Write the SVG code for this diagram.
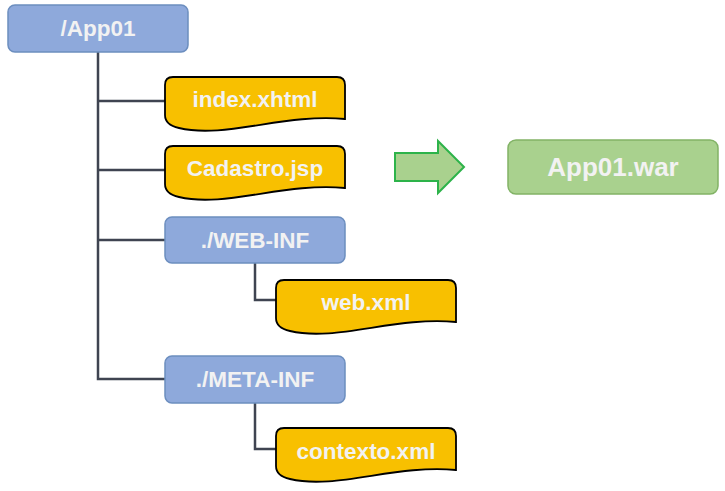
<svg xmlns="http://www.w3.org/2000/svg" xmlns:xlink="http://www.w3.org/1999/xlink" width="725" height="491" viewBox="0 0 725 491">
<style>
.folder{fill:#8EA9DB;stroke:#6C8EBF;stroke-width:1.5}
.doc{fill:#F8C000;stroke:#000;stroke-width:1.8}
.war{fill:#A9D18E;stroke:#82B366;stroke-width:1.5}
.arrow{fill:#A9D18E;stroke:#2DB34A;stroke-width:2}
.lbl{font-family:"Liberation Sans",Arial,sans-serif;font-weight:bold;font-size:22.5px;fill:#F2F2F2;text-anchor:middle}
.conn{fill:none;stroke:#3F4451;stroke-width:2.5}
</style>
<defs>
<path id="docshape" d="M0,8 Q0,0 8,0 L172,0 Q180,0 180,8 L180,42 C120,36 60,62 14,51 Q0,48 0,38 Z"/>
</defs>
<rect width="725" height="491" fill="#fff"/>
<g id="connectors">
<path class="conn" d="M98,52 V379 H165"/>
<path class="conn" d="M98,101 H165"/>
<path class="conn" d="M98,170 H165"/>
<path class="conn" d="M98,240 H165"/>
<path class="conn" d="M255,263 V300 H276"/>
<path class="conn" d="M255,403 V449 H276"/>
</g>
<g id="app01">
<rect class="folder" x="8" y="5" width="180" height="47" rx="7"/>
<text class="lbl" x="98" y="36">/App01</text>
</g>
<g id="index">
<use href="#docshape" class="doc" x="165" y="77"/>
<text class="lbl" x="255" y="107">index.xhtml</text>
</g>
<g id="cadastro">
<use href="#docshape" class="doc" x="165" y="146"/>
<text class="lbl" x="255" y="176">Cadastro.jsp</text>
</g>
<g id="webinf">
<rect class="folder" x="165" y="217" width="180" height="46" rx="7"/>
<text class="lbl" x="255" y="248">./WEB-INF</text>
</g>
<g id="webxml">
<use href="#docshape" class="doc" x="276" y="280"/>
<text class="lbl" x="366" y="310">web.xml</text>
</g>
<g id="metainf">
<rect class="folder" x="165" y="356" width="180" height="47" rx="7"/>
<text class="lbl" x="255" y="387">./META-INF</text>
</g>
<g id="contexto">
<use href="#docshape" class="doc" x="276" y="428"/>
<text class="lbl" x="366" y="459">contexto.xml</text>
</g>
<g id="arrow">
<path class="arrow" d="M395,153 L438,153 L438,141 L464,167 L438,193 L438,181 L395,181 Z"/>
</g>
<g id="war">
<rect class="war" x="508" y="140" width="210" height="54" rx="8"/>
<text class="lbl" x="613" y="176" style="font-size:26px">App01.war</text>
</g>
</svg>
